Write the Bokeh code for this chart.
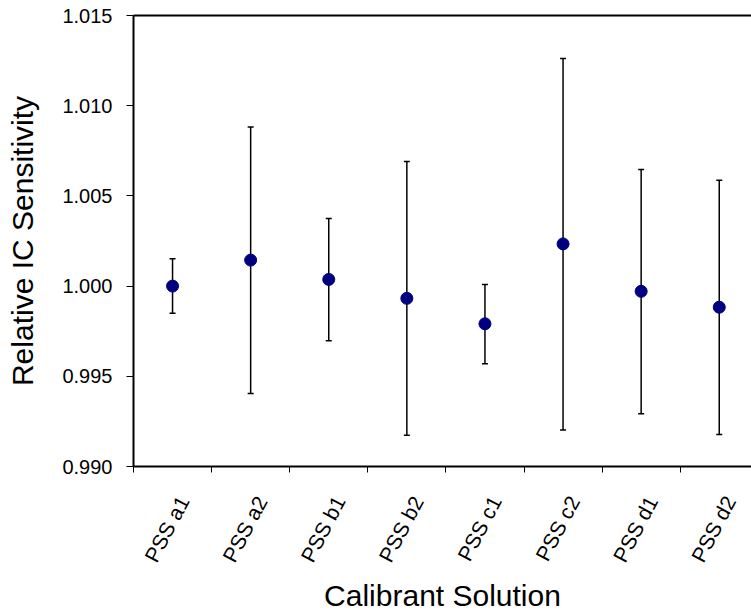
import math
from bokeh.plotting import figure
from bokeh.models import (Range1d, FixedTicker, LinearAxis, Whisker, TeeHead,
                          ColumnDataSource, PrintfTickFormatter)
from bokeh.embed import file_html
from bokeh.resources import INLINE

# ---- data ----
label_prefix = "PSS"
solutions = ["a1", "a2", "b1", "b2", "c1", "c2", "d1", "d2"]
sensitivity = [1.00000, 1.00144, 1.00037, 0.99932, 0.99791, 1.00234, 0.99971, 0.99883]
upper_err = [1.00152, 1.00882, 1.00375, 1.00690, 1.00009, 1.01262, 1.00647, 1.00587]
lower_err = [0.99849, 0.99404, 0.99697, 0.99173, 0.99570, 0.99203, 0.99293, 0.99178]
y_ticks = [0.990, 0.995, 1.000, 1.005, 1.010, 1.015]

FONT = "Liberation Sans"
n = len(solutions)
xs = [i + 0.5 for i in range(n)]
src = ColumnDataSource(dict(x=xs, y=sensitivity, upper=upper_err, lower=lower_err))

CAT_PX = 78.1  # pixel width of one category in the reference
p = figure(width=751, height=615, output_backend="svg", toolbar_location=None,
           x_range=Range1d(0, 618 / CAT_PX), y_range=Range1d(y_ticks[0], y_ticks[-1]),
           min_border_left=133, min_border_right=0, min_border_top=15,
           min_border_bottom=128)
p.outline_line_color = None
p.grid.visible = False
p.background_fill_color = "white"
p.border_fill_color = "white"

# error bars
wh = Whisker(base="x", upper="upper", lower="lower", source=src, dimension="height",
             line_color="black", line_width=1.5,
             upper_head=TeeHead(size=6, line_color="black", line_width=1.5),
             lower_head=TeeHead(size=6, line_color="black", line_width=1.5))
p.add_layout(wh)
p.scatter("x", "y", source=src, size=12, fill_color="#000080", line_color="#000080")

# y axis
ya = p.yaxis[0]
ya.ticker = FixedTicker(ticks=y_ticks)
ya.formatter = PrintfTickFormatter(format="%.3f")
ya.major_label_text_font = FONT
ya.major_label_text_font_size = "20px"
ya.major_label_text_color = "black"
ya.major_tick_out = 7
ya.major_tick_in = 0
ya.major_tick_line_color = "black"
ya.minor_tick_line_color = None
ya.axis_line_width = 2
ya.axis_line_color = "black"
ya.major_label_standoff = 14
ya.axis_label = "Relative IC Sensitivity"
ya.axis_label_text_font = FONT
ya.axis_label_text_font_size = "30px"
ya.axis_label_text_font_style = "normal"
ya.axis_label_text_color = "black"
ya.axis_label_standoff = 20

# x axis: boundary ticks as minor ticks, category names as major labels
theta = math.radians(62)
label_shift = 11 / CAT_PX  # labels sit slightly right of the category centre
label_pos = [x + label_shift for x in xs]
xa = p.xaxis[0]
xa.ticker = FixedTicker(ticks=label_pos, minor_ticks=list(range(n)))
xa.major_label_overrides = {pos: f"{label_prefix} {s}" for pos, s in zip(label_pos, solutions)}
xa.major_label_orientation = theta
xa.major_label_text_font = FONT
xa.major_label_text_font_size = "21px"
xa.major_label_text_color = "black"
xa.major_label_standoff = 25
xa.major_tick_out = 0
xa.major_tick_in = 0
xa.minor_tick_out = 6
xa.minor_tick_in = 0
xa.minor_tick_line_color = "black"
xa.axis_line_width = 2
xa.axis_line_color = "black"
xa.axis_label = "Calibrant Solution"
xa.axis_label_text_font = FONT
xa.axis_label_text_font_size = "30px"
xa.axis_label_text_font_style = "normal"
xa.axis_label_text_color = "black"
xa.axis_label_standoff = 5

# top border line
top = LinearAxis(ticker=FixedTicker(ticks=[]), major_label_text_font_size="0px",
                 major_label_standoff=0, major_tick_out=0, major_tick_in=0,
                 minor_tick_out=0, minor_tick_in=0, axis_line_width=2,
                 axis_line_color="black")
p.add_layout(top, "above")

open("out.html", "w").write(file_html(p, INLINE))
